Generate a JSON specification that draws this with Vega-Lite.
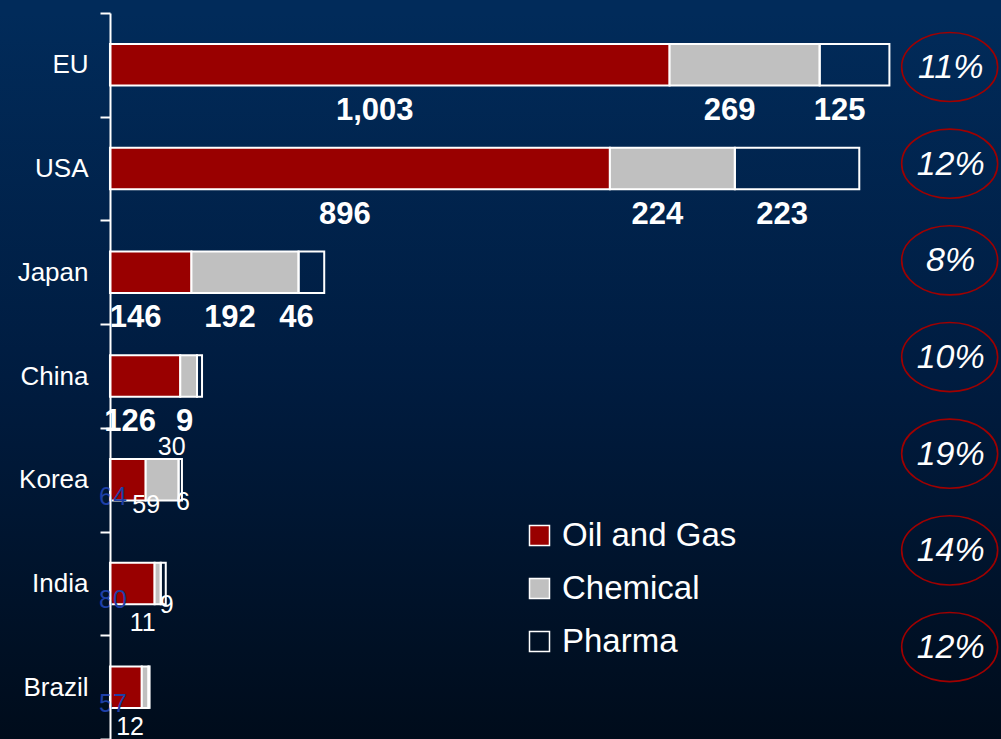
{
  "$schema": "https://vega.github.io/schema/vega-lite/v6.json",
  "width": 1001,
  "height": 726,
  "autosize": {"type": "none"},
  "padding": {"top": 13, "left": 0, "right": 0, "bottom": 0},
  "background": "#012b5a",
  "config": {
    "view": {"stroke": null},
    "font": "Liberation Sans",
    "legend": {
      "labelColor": "white",
      "labelFontSize": 33,
      "labelFont": "Liberation Sans",
      "labelLimit": 400,
      "symbolType": "square",
      "symbolSize": 400,
      "symbolStrokeColor": "white",
      "symbolStrokeWidth": 1.5,
      "rowPadding": 19,
      "labelOffset": 6,
      "padding": 0
    }
  },
  "datasets": {
    "exports": [
      {"country": "EU", "sector": "Oil and Gas", "value": 1003},
      {"country": "EU", "sector": "Chemical", "value": 269},
      {"country": "EU", "sector": "Pharma", "value": 125},
      {"country": "USA", "sector": "Oil and Gas", "value": 896},
      {"country": "USA", "sector": "Chemical", "value": 224},
      {"country": "USA", "sector": "Pharma", "value": 223},
      {"country": "Japan", "sector": "Oil and Gas", "value": 146},
      {"country": "Japan", "sector": "Chemical", "value": 192},
      {"country": "Japan", "sector": "Pharma", "value": 46},
      {"country": "China", "sector": "Oil and Gas", "value": 126},
      {"country": "China", "sector": "Chemical", "value": 30},
      {"country": "China", "sector": "Pharma", "value": 9},
      {"country": "Korea", "sector": "Oil and Gas", "value": 64},
      {"country": "Korea", "sector": "Chemical", "value": 59},
      {"country": "Korea", "sector": "Pharma", "value": 6},
      {"country": "India", "sector": "Oil and Gas", "value": 80},
      {"country": "India", "sector": "Chemical", "value": 11},
      {"country": "India", "sector": "Pharma", "value": 9},
      {"country": "Brazil", "sector": "Oil and Gas", "value": 57},
      {"country": "Brazil", "sector": "Chemical", "value": 12},
      {"country": "Brazil", "sector": "Pharma", "value": 2}
    ],
    "growth": [
      {"country": "EU", "growth": 0.11},
      {"country": "USA", "growth": 0.12},
      {"country": "Japan", "growth": 0.08},
      {"country": "China", "growth": 0.10},
      {"country": "Korea", "growth": 0.19},
      {"country": "India", "growth": 0.14},
      {"country": "Brazil", "growth": 0.12}
    ]
  },
  "resolve": {"scale": {"y": "independent"}},
  "layer": [
    {
      "data": {"values": [{}]},
      "mark": {
        "type": "rect",
        "fill": {
          "gradient": "linear",
          "x1": 0, "y1": 0, "x2": 0, "y2": 1,
          "stops": [
            {"offset": 0, "color": "#012b5a"},
            {"offset": 0.5, "color": "#001c40"},
            {"offset": 1, "color": "#000c1b"}
          ]
        }
      },
      "encoding": {}
    },
    {
      "data": {"name": "exports"},
      "transform": [
        {"calculate": "indexof(['Oil and Gas','Chemical','Pharma'], datum.sector)", "as": "k"},
        {"stack": "value", "groupby": ["country"], "sort": [{"field": "k", "order": "ascending"}], "as": ["x0", "x1"]},
        {"calculate": "(datum.x0 + datum.x1) / 2", "as": "xm"}
      ],
      "encoding": {
        "y": {
          "field": "country",
          "type": "nominal",
          "sort": ["EU", "USA", "Japan", "China", "Korea", "India", "Brazil"],
          "scale": {"paddingInner": 0, "paddingOuter": 0},
          "axis": {
            "title": null,
            "offset": -110,
            "zindex": 1,
            "labelColor": "white",
            "labelFontSize": 26,
            "labelFont": "Liberation Sans",
            "labelPadding": 12,
            "domainColor": "white",
            "domainWidth": 2,
            "tickColor": "white",
            "tickWidth": 2,
            "tickSize": 10,
            "tickBand": "extent",
            "grid": false
          }
        }
      },
      "layer": [
        {
          "mark": {"type": "bar", "stroke": "white", "strokeWidth": 2, "height": {"band": 0.4}},
          "encoding": {
            "x": {"field": "x0", "type": "quantitative", "scale": {"domain": [-197.1, 1597], "nice": false, "zero": false}, "axis": null},
            "x2": {"field": "x1"},
            "color": {
              "field": "sector",
              "type": "nominal",
              "scale": {"domain": ["Oil and Gas", "Chemical", "Pharma"], "range": ["#990000", "#c0c0c0", "rgba(0,0,0,0)"]},
              "legend": {"title": null, "orient": "none", "legendX": 523, "legendY": 506}
            }
          }
        },
        {
          "transform": [{"filter": "indexof(['EU','USA','Japan','China'], datum.country) >= 0 && !(datum.country == 'China' && datum.sector == 'Chemical')"}],
          "mark": {"type": "text", "color": "white", "fontSize": 31, "fontWeight": "bold", "dx": -15, "dy": 46},
          "encoding": {
            "x": {"field": "xm", "type": "quantitative"},
            "text": {"field": "value", "type": "quantitative", "format": ","}
          }
        },
        {
          "transform": [{"filter": "datum.country == 'China' && datum.sector == 'Chemical'"}],
          "mark": {"type": "text", "color": "white", "fontSize": 25, "dx": -17, "dy": 71},
          "encoding": {
            "x": {"field": "xm", "type": "quantitative"},
            "text": {"field": "value", "type": "quantitative", "format": ","}
          }
        },
        {
          "transform": [{"filter": "(datum.country == 'India' || datum.country == 'Brazil') && datum.sector == 'Chemical'"}],
          "mark": {"type": "text", "color": "white", "fontSize": 25, "dx": -15, "dy": 40},
          "encoding": {
            "x": {"field": "xm", "type": "quantitative"},
            "text": {"field": "value", "type": "quantitative", "format": ","}
          }
        },
        {
          "transform": [{"filter": "indexof(['Korea','India','Brazil'], datum.country) >= 0 && datum.sector == 'Oil and Gas'"}],
          "mark": {"type": "text", "color": "#1e3fa6", "fontSize": 25, "dx": 3, "dy": 17},
          "encoding": {
            "x": {"field": "x0", "type": "quantitative"},
            "text": {"field": "value", "type": "quantitative", "format": ","}
          }
        },
        {
          "transform": [{"filter": "datum.country == 'Korea' && datum.sector == 'Chemical'"}],
          "mark": {"type": "text", "color": "white", "fontSize": 25, "dx": -16, "dy": 25},
          "encoding": {
            "x": {"field": "xm", "type": "quantitative"},
            "text": {"field": "value", "type": "quantitative", "format": ","}
          }
        },
        {
          "transform": [{"filter": "(datum.country == 'Korea' || datum.country == 'India') && datum.sector == 'Pharma'"}],
          "mark": {"type": "text", "color": "white", "fontSize": 25, "dx": 1, "dy": 22},
          "encoding": {
            "x": {"field": "x1", "type": "quantitative"},
            "text": {"field": "value", "type": "quantitative", "format": ","}
          }
        }
      ]
    },
    {
      "data": {"name": "growth"},
      "encoding": {
        "y": {
          "field": "country",
          "type": "nominal",
          "sort": ["EU", "USA", "Japan", "China", "Korea", "India", "Brazil"],
          "scale": {"type": "point", "padding": 0.755, "align": 0.37},
          "axis": null
        },
        "x": {"datum": 1505, "type": "quantitative"}
      },
      "layer": [
        {
          "mark": {
            "type": "point",
            "shape": "M-1,0A1,0.72 0 1,1 1,0A1,0.72 0 1,1 -1,0Z",
            "size": 9216,
            "filled": false,
            "stroke": "#a00000",
            "strokeWidth": 1.6,
            "opacity": 1
          }
        },
        {
          "mark": {"type": "text", "color": "white", "fontSize": 34, "fontStyle": "italic", "dx": 1, "dy": 1},
          "encoding": {
            "text": {"field": "growth", "type": "quantitative", "format": ".0%"}
          }
        }
      ]
    }
  ]
}
